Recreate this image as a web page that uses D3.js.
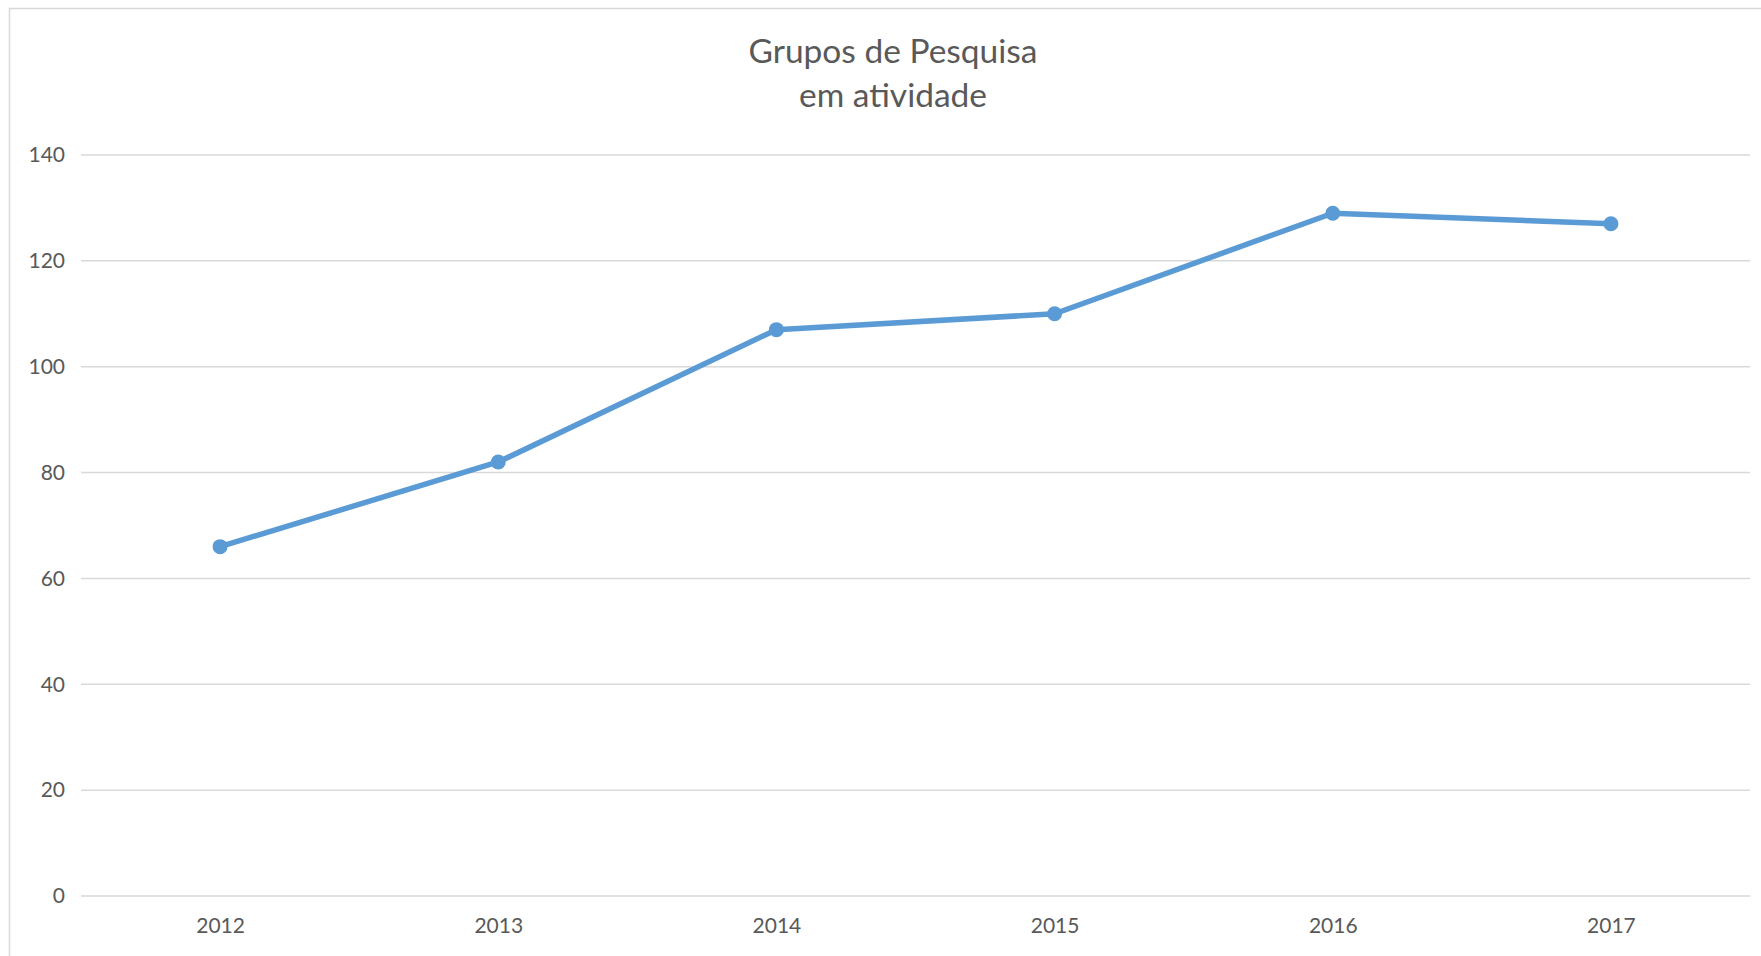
<!DOCTYPE html>
<html>
<head>
<meta charset="utf-8">
<script src="https://cdn.jsdelivr.net/npm/d3@7"></script>
<style>
  body { margin: 0; background: #fff; }
  #chart { width: 1761px; height: 956px; }
</style>
</head>
<body>
<div id="chart"></div>
<script>
// chart data
const years = ["2012", "2013", "2014", "2015", "2016", "2017"];
const groups = [66, 82, 107, 110, 129, 127];
const yTicks = [0, 20, 40, 60, 80, 100, 120, 140];
const titleLines = ["Grupos de Pesquisa", "em atividade"];

const W = 1761, H = 956;
const margin = { top: 155, right: 11, bottom: 60, left: 81 };
const width = W - margin.left - margin.right;
const height = 896 - margin.top;
const textColor = "#595959";
const lineColor = "#5B9BD5";
const font = "Lato, 'Open Sans', sans-serif";

const svg = d3.select("#chart").append("svg")
  .attr("width", W)
  .attr("height", H);

// outer chart border (top + left visible)
svg.append("rect")
  .attr("x", 9.5).attr("y", 8.5)
  .attr("width", W + 20).attr("height", H + 20)
  .attr("fill", "#fff")
  .attr("stroke", "#d9d9d9")
  .attr("stroke-width", 1.5);

// title
svg.append("text")
  .attr("x", 893)
  .attr("text-anchor", "middle")
  .style("font-family", font)
  .style("font-size", "33.5px")
  .style("fill", textColor)
  .selectAll("tspan")
  .data(titleLines)
  .enter().append("tspan")
  .attr("x", 893)
  .attr("y", (d, i) => 63 + i * 44)
  .text(d => d);

const g = svg.append("g")
  .attr("transform", `translate(${margin.left},${margin.top})`);

const x = d3.scalePoint()
  .domain(years)
  .range([0, width])
  .padding(0.5);

const y = d3.scaleLinear()
  .domain([0, 140])
  .range([height, 0]);

// gridlines
g.append("g")
  .selectAll("line")
  .data(yTicks)
  .enter().append("line")
  .attr("x1", 0)
  .attr("x2", width)
  .attr("y1", d => y(d))
  .attr("y2", d => y(d))
  .attr("stroke", "#d9d9d9")
  .attr("stroke-width", 1.5);

// y axis labels
const yAxis = g.append("g")
  .call(d3.axisLeft(y).tickValues(yTicks).tickSize(0).tickPadding(16));
yAxis.select(".domain").remove();
yAxis.selectAll("text")
  .style("font-family", font)
  .style("font-size", "21px")
  .style("fill", textColor);

// x axis labels
const xAxis = g.append("g")
  .attr("transform", `translate(0,${height})`)
  .call(d3.axisBottom(x).tickSize(0).tickPadding(22));
xAxis.select(".domain").remove();
xAxis.selectAll("text")
  .style("font-family", font)
  .style("font-size", "21px")
  .style("fill", textColor);

// line
const line = d3.line()
  .x((d, i) => x(years[i]))
  .y(d => y(d));

g.append("path")
  .datum(groups)
  .attr("fill", "none")
  .attr("stroke", lineColor)
  .attr("stroke-width", 5.5)
  .attr("stroke-linejoin", "round")
  .attr("d", line);

g.selectAll(".dot")
  .data(groups)
  .enter().append("circle")
  .attr("class", "dot")
  .attr("cx", (d, i) => x(years[i]))
  .attr("cy", d => y(d))
  .attr("r", 7.5)
  .attr("fill", lineColor);
</script>
</body>
</html>
